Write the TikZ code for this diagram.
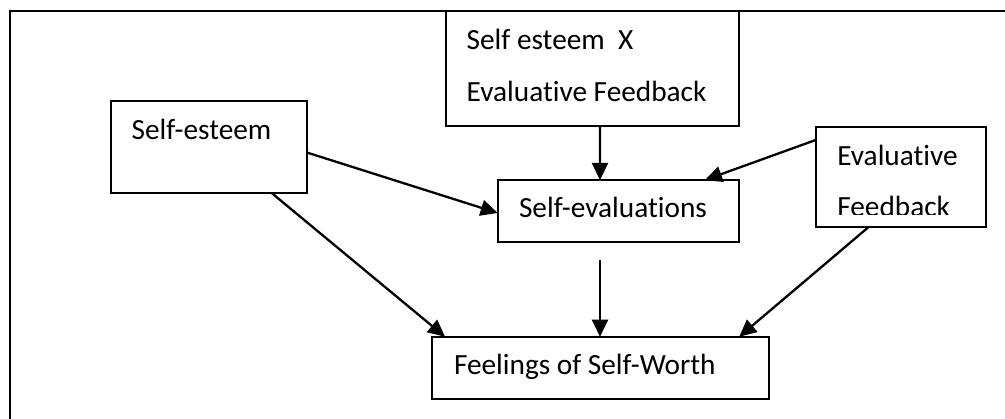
\documentclass[tikz,border=0pt]{standalone}
\usepackage{fontspec}
\setmainfont{Carlito}[Ligatures=NoCommon]
\usetikzlibrary{arrows.meta}
\begin{document}
\begin{tikzpicture}[x=1pt,y=-1pt,
  line width=2.3pt,
  box/.style={draw=black, rectangle, inner sep=0pt, outer sep=0pt, anchor=north west},
  lbl/.style={anchor=base west, inner sep=0pt, outer sep=0pt, font=\fontsize{29.3}{35}\selectfont},
  arr/.style={-{Triangle[length=17pt,width=16pt]}, line width=2.3pt}]
\useasboundingbox (0,0) rectangle (1005,419);

% open frame: only the left and top sides fall on the page
\coordinate (fbl) at (10,419);
\coordinate (ftl) at (10,11);
\coordinate (ftr) at (1005,11);
\draw (fbl) -- (ftl) -- (ftr);

% boxes
\node[box, minimum width=196.6pt, minimum height=92.3pt] (se)  at (110.7,101)  {};
\node[box, minimum width=293pt,   minimum height=115pt]  (sxe) at (446,11)     {};
\node[box, minimum width=241.3pt, minimum height=62pt]   (sev) at (497.7,180)  {};
\node[box, minimum width=337pt,   minimum height=62.3pt] (few) at (432,336.7)  {};
\node[box, minimum width=170.6pt, minimum height=100pt]  (ef)  at (815.7,126.7) {};

% labels
\node[lbl] (tse)   at (131.7,140)  {Self-esteem};
\node[lbl] (tsxe1) at (466.7,50)   {Self esteem\ \ X};
\node[lbl] (tsxe2) at (466.7,102)  {Evaluative Feedback};
\node[lbl] (tsev)  at (519,217.5)  {Self-evaluations};
\node[lbl] (tfew)  at (454,375)    {Feelings of Self-Worth};
\node[lbl] (tef1)  at (837.3,165.7) {Evaluative};
\begin{scope}
  \clip (815.7,126.7) rectangle (986.3,215);
  \node[lbl] (tef2) at (837.3,216.7) {Feedback};
\end{scope}

% connectors
\draw[arr] ([yshift=-5.5pt]se.east) -- ([yshift=-2pt]sev.west);
\draw[arr] ([xshift=63pt]se.south) -- ([xshift=13pt]few.north west);
\draw[arr] ([xshift=7.5pt]sxe.south) -- ([xshift=-18.35pt]sev.north);
\coordinate (mid) at (600,260);
\draw[arr] (mid) -- (mid |- few.north);
\draw[arr] ([yshift=-13.3pt]ef.north west) -- ([xshift=-34pt]sev.north east);
\draw[arr] ([xshift=-32pt]ef.south) -- ([xshift=-29.7pt]few.north east);
\end{tikzpicture}
\end{document}
